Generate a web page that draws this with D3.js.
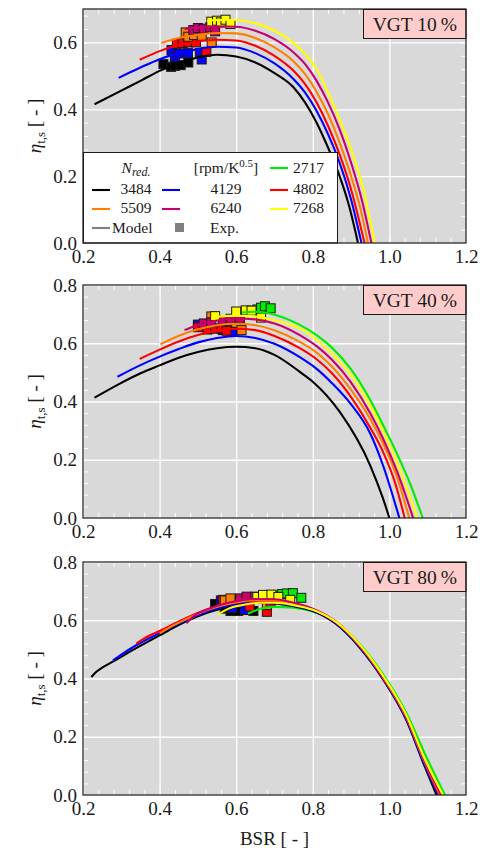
<!DOCTYPE html>
<html><head><meta charset="utf-8">
<script src="https://cdn.jsdelivr.net/npm/d3@7"></script>
<style>
body{margin:0;background:#fff}
svg{display:block}
text{font-family:"Liberation Serif","DejaVu Serif",serif;fill:#1a1a1a}
</style>
</head><body><svg id="c" width="484" height="857"></svg>
<script>
// ---------- data ----------
const speeds = ["2717","3484","4129","4802","5509","6240","7268"];
const speedColors = ["#00ee00","#000000","#0000ff","#ff0000","#ff8000","#c8006e","#ffff00"];
const xTicks = [0.2,0.4,0.6,0.8,1.0,1.2];
const yTicks10 = [0.0,0.2,0.4,0.6];
const yTicks = [0.0,0.2,0.4,0.6,0.8];
const panelLabels = ["VGT 10\u2009%","VGT 40\u2009%","VGT 80\u2009%"];

// VGT 10 % - model
const m10_3484 = [[0.23,0.415],[0.30,0.456],[0.35,0.485],[0.40,0.515],[0.45,0.538],[0.50,0.555],[0.55,0.563],[0.60,0.558],[0.65,0.54],[0.70,0.508],[0.75,0.465],[0.78,0.42],[0.81,0.36],[0.84,0.285],[0.87,0.20],[0.895,0.11],[0.918,0.0]];
const m10_4129 = [[0.293,0.494],[0.35,0.525],[0.40,0.55],[0.45,0.568],[0.50,0.58],[0.55,0.587],[0.60,0.585],[0.65,0.568],[0.70,0.537],[0.75,0.49],[0.78,0.45],[0.81,0.395],[0.84,0.325],[0.87,0.24],[0.90,0.13],[0.927,0.0]];
const m10_4802 = [[0.348,0.548],[0.40,0.574],[0.45,0.592],[0.50,0.603],[0.55,0.608],[0.60,0.606],[0.65,0.59],[0.70,0.56],[0.75,0.515],[0.78,0.475],[0.81,0.42],[0.84,0.35],[0.87,0.265],[0.90,0.16],[0.935,0.0]];
const m10_5509 = [[0.405,0.598],[0.45,0.613],[0.50,0.623],[0.55,0.628],[0.60,0.627],[0.65,0.613],[0.70,0.585],[0.75,0.543],[0.78,0.505],[0.81,0.452],[0.84,0.385],[0.87,0.30],[0.90,0.20],[0.925,0.10],[0.944,0.0]];
const m10_6240 = [[0.465,0.640],[0.50,0.645],[0.55,0.648],[0.60,0.647],[0.65,0.635],[0.70,0.61],[0.75,0.57],[0.78,0.535],[0.81,0.485],[0.84,0.42],[0.87,0.34],[0.90,0.24],[0.93,0.12],[0.953,0.0]];
const m10_7268 = [[0.524,0.664],[0.55,0.667],[0.60,0.667],[0.65,0.657],[0.70,0.635],[0.75,0.598],[0.78,0.565],[0.81,0.52],[0.84,0.45],[0.87,0.37],[0.90,0.28],[0.93,0.17],[0.962,0.0]];
// VGT 10 % - experiments
const e10_3484 = [[0.41,0.535],[0.43,0.527],[0.44,0.53],[0.455,0.532],[0.475,0.54]];
const e10_4129 = [[0.431,0.577],[0.44,0.557],[0.453,0.567],[0.474,0.568],[0.505,0.568],[0.51,0.549]];
const e10_4802 = [[0.445,0.596],[0.46,0.598],[0.475,0.6],[0.495,0.6],[0.522,0.572]];
const e10_5509 = [[0.468,0.630],[0.475,0.617],[0.49,0.622],[0.51,0.62],[0.536,0.600]];
const e10_6240 = [[0.488,0.637],[0.50,0.643],[0.515,0.641],[0.532,0.645],[0.545,0.633]];
const e10_7268 = [[0.535,0.662],[0.55,0.665],[0.56,0.660],[0.572,0.668],[0.585,0.655]];

// VGT 40 % - model
const m40_2717 = [[0.615,0.705],[0.65,0.708],[0.70,0.698],[0.766,0.663],[0.81,0.628],[0.85,0.585],[0.90,0.51],[0.95,0.405],[0.985,0.315],[1.02,0.22],[1.055,0.115],[1.087,0.0]];
const m40_3484 = [[0.23,0.413],[0.30,0.464],[0.35,0.497],[0.40,0.524],[0.45,0.55],[0.50,0.57],[0.55,0.583],[0.60,0.588],[0.65,0.583],[0.70,0.56],[0.766,0.502],[0.80,0.468],[0.87,0.365],[0.95,0.18],[0.983,0.068],[1.0,0.0]];
const m40_4129 = [[0.29,0.485],[0.35,0.525],[0.40,0.554],[0.45,0.58],[0.50,0.603],[0.55,0.618],[0.60,0.625],[0.65,0.618],[0.70,0.598],[0.766,0.552],[0.81,0.512],[0.85,0.463],[0.90,0.39],[0.95,0.29],[0.983,0.182],[1.026,0.0]];
const m40_4802 = [[0.348,0.546],[0.40,0.578],[0.45,0.606],[0.50,0.628],[0.55,0.643],[0.60,0.650],[0.65,0.645],[0.70,0.625],[0.766,0.583],[0.81,0.545],[0.85,0.497],[0.90,0.415],[0.95,0.31],[0.983,0.228],[1.015,0.12],[1.04,0.0]];
const m40_5509 = [[0.402,0.596],[0.45,0.626],[0.50,0.648],[0.55,0.662],[0.60,0.667],[0.65,0.662],[0.70,0.645],[0.766,0.605],[0.81,0.568],[0.85,0.52],[0.90,0.44],[0.95,0.34],[0.983,0.257],[1.02,0.14],[1.052,0.0]];
const m40_6240 = [[0.465,0.645],[0.50,0.663],[0.55,0.678],[0.60,0.685],[0.65,0.682],[0.70,0.668],[0.766,0.628],[0.81,0.59],[0.85,0.543],[0.90,0.465],[0.95,0.36],[0.983,0.274],[1.02,0.16],[1.062,0.0]];
const m40_7268 = [[0.535,0.688],[0.58,0.694],[0.63,0.694],[0.68,0.685],[0.72,0.672],[0.766,0.651],[0.81,0.612],[0.85,0.565],[0.90,0.49],[0.95,0.385],[0.983,0.30],[1.02,0.19],[1.045,0.105],[1.073,0.0]];
// VGT 40 % - experiments
const e40_2717 = [[0.655,0.716],[0.665,0.722],[0.675,0.727],[0.69,0.72]];
const e40_4129 = [[0.50,0.664],[0.53,0.655],[0.565,0.645],[0.59,0.64]];
const e40_4802 = [[0.50,0.655],[0.525,0.647],[0.545,0.65],[0.562,0.651],[0.575,0.643]];
const e40_5509 = [[0.535,0.692],[0.575,0.676],[0.60,0.67],[0.614,0.645]];
const e40_6240 = [[0.515,0.668],[0.535,0.672],[0.565,0.678],[0.585,0.684],[0.61,0.685]];
const e40_7268 = [[0.545,0.693],[0.60,0.709],[0.625,0.713],[0.64,0.712],[0.665,0.688]];

// VGT 80 % - model
const m80_2717 = [[0.631,0.623],[0.66,0.638],[0.70,0.646],[0.75,0.643],[0.80,0.63],[0.86,0.594],[0.92,0.522],[0.983,0.415],[1.045,0.28],[1.095,0.135],[1.145,0.0]];
const m80_3484 = [[0.222,0.405],[0.232,0.42],[0.25,0.437],[0.278,0.458],[0.34,0.505],[0.40,0.548],[0.46,0.59],[0.53,0.628],[0.60,0.652],[0.65,0.66],[0.70,0.658],[0.75,0.648],[0.80,0.632],[0.86,0.588],[0.92,0.51],[0.983,0.398],[1.045,0.255],[1.09,0.105],[1.123,0.0]];
const m80_4129 = [[0.278,0.462],[0.30,0.482],[0.34,0.515],[0.40,0.556],[0.46,0.595],[0.53,0.633],[0.60,0.655],[0.65,0.662],[0.70,0.66],[0.75,0.65],[0.80,0.634],[0.86,0.59],[0.92,0.512],[0.983,0.40],[1.045,0.258],[1.09,0.11],[1.127,0.0]];
const m80_4802 = [[0.339,0.52],[0.37,0.545],[0.40,0.563],[0.46,0.602],[0.53,0.64],[0.60,0.66],[0.65,0.667],[0.70,0.665],[0.75,0.654],[0.80,0.637],[0.86,0.593],[0.92,0.516],[0.983,0.404],[1.045,0.264],[1.09,0.118],[1.13,0.0]];
const m80_5509 = [[0.40,0.555],[0.43,0.578],[0.46,0.598],[0.53,0.638],[0.60,0.662],[0.65,0.67],[0.70,0.668],[0.75,0.657],[0.80,0.638],[0.86,0.594],[0.92,0.517],[0.983,0.405],[1.045,0.265],[1.09,0.12],[1.133,0.0]];
const m80_6240 = [[0.47,0.59],[0.49,0.615],[0.53,0.64],[0.60,0.665],[0.65,0.673],[0.70,0.672],[0.75,0.66],[0.80,0.64],[0.86,0.596],[0.92,0.518],[0.983,0.406],[1.045,0.266],[1.09,0.122],[1.135,0.0]];
const m80_7268 = [[0.552,0.62],[0.58,0.64],[0.62,0.653],[0.66,0.66],[0.70,0.66],[0.75,0.652],[0.80,0.636],[0.86,0.595],[0.92,0.52],[0.983,0.41],[1.045,0.272],[1.09,0.13],[1.14,0.0]];
// VGT 80 % - experiments
const e80_2717 = [[0.705,0.684],[0.72,0.69],[0.732,0.692],[0.748,0.693],[0.77,0.677]];
const e80_3484 = [[0.545,0.656],[0.57,0.64],[0.585,0.632],[0.605,0.632],[0.645,0.632]];
const e80_4129 = [[0.56,0.668],[0.59,0.642],[0.622,0.635]];
const e80_4802 = [[0.565,0.67],[0.60,0.66],[0.635,0.647],[0.68,0.629]];
const e80_5509 = [[0.57,0.668],[0.585,0.675],[0.62,0.67],[0.68,0.652]];
const e80_6240 = [[0.61,0.675],[0.627,0.681],[0.649,0.681],[0.69,0.66]];
const e80_7268 = [[0.655,0.68],[0.67,0.687],[0.692,0.688],[0.71,0.68],[0.741,0.67]];

// ---------- layout ----------
const X0 = 83, X1 = 466;
const panels = [
  {label:panelLabels[0], top:9, bottom:243, ymax:0.7, yt:yTicks10,
   model:{"3484":m10_3484,"4129":m10_4129,"4802":m10_4802,"5509":m10_5509,"6240":m10_6240,"7268":m10_7268},
   exp:{"3484":e10_3484,"4129":e10_4129,"4802":e10_4802,"5509":e10_5509,"6240":e10_6240,"7268":e10_7268}},
  {label:panelLabels[1], top:285, bottom:518, ymax:0.8, yt:yTicks,
   model:{"2717":m40_2717,"3484":m40_3484,"4129":m40_4129,"4802":m40_4802,"5509":m40_5509,"6240":m40_6240,"7268":m40_7268},
   exp:{"2717":e40_2717,"4129":e40_4129,"4802":e40_4802,"5509":e40_5509,"6240":e40_6240,"7268":e40_7268}},
  {label:panelLabels[2], top:562, bottom:795, ymax:0.8, yt:yTicks,
   model:{"2717":m80_2717,"3484":m80_3484,"4129":m80_4129,"4802":m80_4802,"5509":m80_5509,"6240":m80_6240,"7268":m80_7268},
   exp:{"2717":e80_2717,"3484":e80_3484,"4129":e80_4129,"4802":e80_4802,"5509":e80_5509,"6240":e80_6240,"7268":e80_7268}}
];
const colorOf = d3.scaleOrdinal().domain(speeds).range(speedColors);
const svg = d3.select("#c");
const x = d3.scaleLinear().domain([0.2,1.2]).range([X0,X1]);
const xMinor = d3.range(0,26).map(i => 0.2 + i*0.04);
const fmt = d3.format(".1f");
const TF = 19;

panels.forEach((p,pi) => {
  const y = d3.scaleLinear().domain([0,p.ymax]).range([p.bottom,p.top]);
  const H = p.bottom - p.top;
  const g = svg.append("g");
  g.append("rect").attr("x",X0).attr("y",p.top).attr("width",X1-X0).attr("height",H).attr("fill","#d9d9d9");
  const clipId = "clip"+pi;
  svg.append("clipPath").attr("id",clipId).append("rect").attr("x",X0).attr("y",p.top).attr("width",X1-X0).attr("height",H);

  const yMinor = d3.range(0, Math.round(p.ymax/0.04)+1).map(i => i*0.04).filter(v => v <= p.ymax+1e-9);
  function put(axis, tr){ const a = g.append("g").attr("transform",tr).call(axis); a.select(".domain").remove(); return a; }
  // grid
  put(d3.axisBottom(x).tickValues(xTicks).tickSize(-H).tickFormat(""), `translate(0,${p.bottom})`)
    .selectAll("line").attr("stroke","#fff").attr("stroke-width",1.3);
  put(d3.axisLeft(y).tickValues(p.yt).tickSize(-(X1-X0)).tickFormat(""), `translate(${X0},0)`)
    .selectAll("line").attr("stroke","#fff").attr("stroke-width",1.3);
  // minor ticks
  put(d3.axisBottom(x).tickValues(xMinor).tickSize(-5).tickFormat(""), `translate(0,${p.bottom})`).selectAll("line").attr("stroke","#fff");
  put(d3.axisTop(x).tickValues(xMinor).tickSize(-5).tickFormat(""), `translate(0,${p.top})`).selectAll("line").attr("stroke","#fff");
  put(d3.axisLeft(y).tickValues(yMinor).tickSize(-5).tickFormat(""), `translate(${X0},0)`).selectAll("line").attr("stroke","#fff");
  put(d3.axisRight(y).tickValues(yMinor).tickSize(-5).tickFormat(""), `translate(${X1},0)`).selectAll("line").attr("stroke","#fff");
  // tick labels
  put(d3.axisBottom(x).tickValues(xTicks).tickSize(0).tickPadding(7).tickFormat(fmt), `translate(0,${p.bottom})`)
    .selectAll("text").attr("font-size",TF).attr("font-family","Liberation Serif").attr("fill","#1a1a1a");
  put(d3.axisLeft(y).tickValues(p.yt).tickSize(0).tickPadding(6).tickFormat(fmt), `translate(${X0},0)`)
    .selectAll("text").attr("font-size",TF).attr("font-family","Liberation Serif").attr("fill","#1a1a1a");

  const plot = g.append("g").attr("clip-path",`url(#${clipId})`);
  // experiments
  speeds.forEach(s => {
    const pts = p.exp[s]; if (!pts) return;
    plot.selectAll(null).data(pts).enter().append("rect")
      .attr("x", d => x(d[0]) - 4.5).attr("y", d => y(d[1]) - 4.5)
      .attr("width",9).attr("height",9)
      .attr("fill", colorOf(s)).attr("stroke","#1a1a1a").attr("stroke-width",1);
  });
  // model lines
  const line = d3.line().x(d => x(d[0])).y(d => y(d[1])).curve(d3.curveMonotoneX);
  speeds.forEach(s => {
    const pts = p.model[s]; if (!pts) return;
    plot.append("path").datum(pts).attr("d", line).attr("fill","none")
      .attr("stroke", colorOf(s)).attr("stroke-width",2.1);
  });

  // y label
  const yl = g.append("text").attr("transform",`translate(41,${(p.top+p.bottom)/2}) rotate(-90)`)
    .attr("text-anchor","middle").attr("font-size",19);
  yl.append("tspan").attr("font-style","italic").text("\u03b7");
  yl.append("tspan").attr("font-size",13).attr("dy",4).text("t,s");
  yl.append("tspan").attr("dy",-4).text(" [ - ]");

  // label box
  g.append("rect").attr("x",363.5).attr("y",p.top+0.5).attr("width",X1-363.5).attr("height",29)
    .attr("fill","#ffcccc").attr("stroke","#1a1a1a").attr("stroke-width",1);
  g.append("text").attr("x",(363.5+X1)/2).attr("y",p.top+21.5).attr("text-anchor","middle")
    .attr("font-size",19.5).text(p.label);

  // legend (top panel)
  if (pi === 0) {
    const L = g.append("g");
    L.append("rect").attr("x",X0+0.5).attr("y",152.5).attr("width",337-X0).attr("height",p.bottom-152.5)
      .attr("fill","#fff").attr("stroke","#1a1a1a").attr("stroke-width",1);
    const fs = 15.5;
    const t1 = L.append("text").attr("x",136).attr("y",173).attr("text-anchor","middle").attr("font-size",fs);
    t1.append("tspan").attr("font-style","italic").text("N");
    t1.append("tspan").attr("font-style","italic").attr("font-size",12).attr("dy",3).text("red.");
    const t2 = L.append("text").attr("x",226).attr("y",173).attr("text-anchor","middle").attr("font-size",fs);
    t2.append("tspan").text("[rpm/K");
    t2.append("tspan").attr("font-size",11).attr("dy",-6).text("0.5");
    t2.append("tspan").attr("dy",6).text("]");
    const items = [
      {s:"2717", lx:270, tx:293, anchor:"start", ly:168, ty:173},
      {s:"3484", lx:92, tx:136, anchor:"middle", ly:190, ty:194},
      {s:"4129", lx:162, tx:226, anchor:"middle", ly:190, ty:194},
      {s:"4802", lx:270, tx:293, anchor:"start", ly:190, ty:194},
      {s:"5509", lx:92, tx:136, anchor:"middle", ly:209, ty:213},
      {s:"6240", lx:162, tx:226, anchor:"middle", ly:209, ty:213},
      {s:"7268", lx:270, tx:293, anchor:"start", ly:209, ty:213}
    ];
    items.forEach(it => {
      L.append("line").attr("x1",it.lx).attr("x2",it.lx+18).attr("y1",it.ly).attr("y2",it.ly)
        .attr("stroke",colorOf(it.s)).attr("stroke-width",2.1);
      L.append("text").attr("x",it.tx).attr("y",it.ty).attr("text-anchor",it.anchor).attr("font-size",fs).text(it.s);
    });
    L.append("line").attr("x1",92).attr("x2",110).attr("y1",228).attr("y2",228).attr("stroke","#808080").attr("stroke-width",2.1);
    L.append("text").attr("x",112).attr("y",233).attr("font-size",fs).text("Model");
    L.append("rect").attr("x",175).attr("y",223).attr("width",9).attr("height",9).attr("fill","#808080");
    L.append("text").attr("x",210).attr("y",233).attr("font-size",fs).text("Exp.");
  }

  g.append("rect").attr("x",X0).attr("y",p.top).attr("width",X1-X0).attr("height",H)
    .attr("fill","none").attr("stroke","#1a1a1a").attr("stroke-width",1.2);
});

svg.append("text").attr("x",(X0+X1)/2).attr("y",845).attr("text-anchor","middle").attr("font-size",19).text("BSR [ - ]");
</script></body></html>
